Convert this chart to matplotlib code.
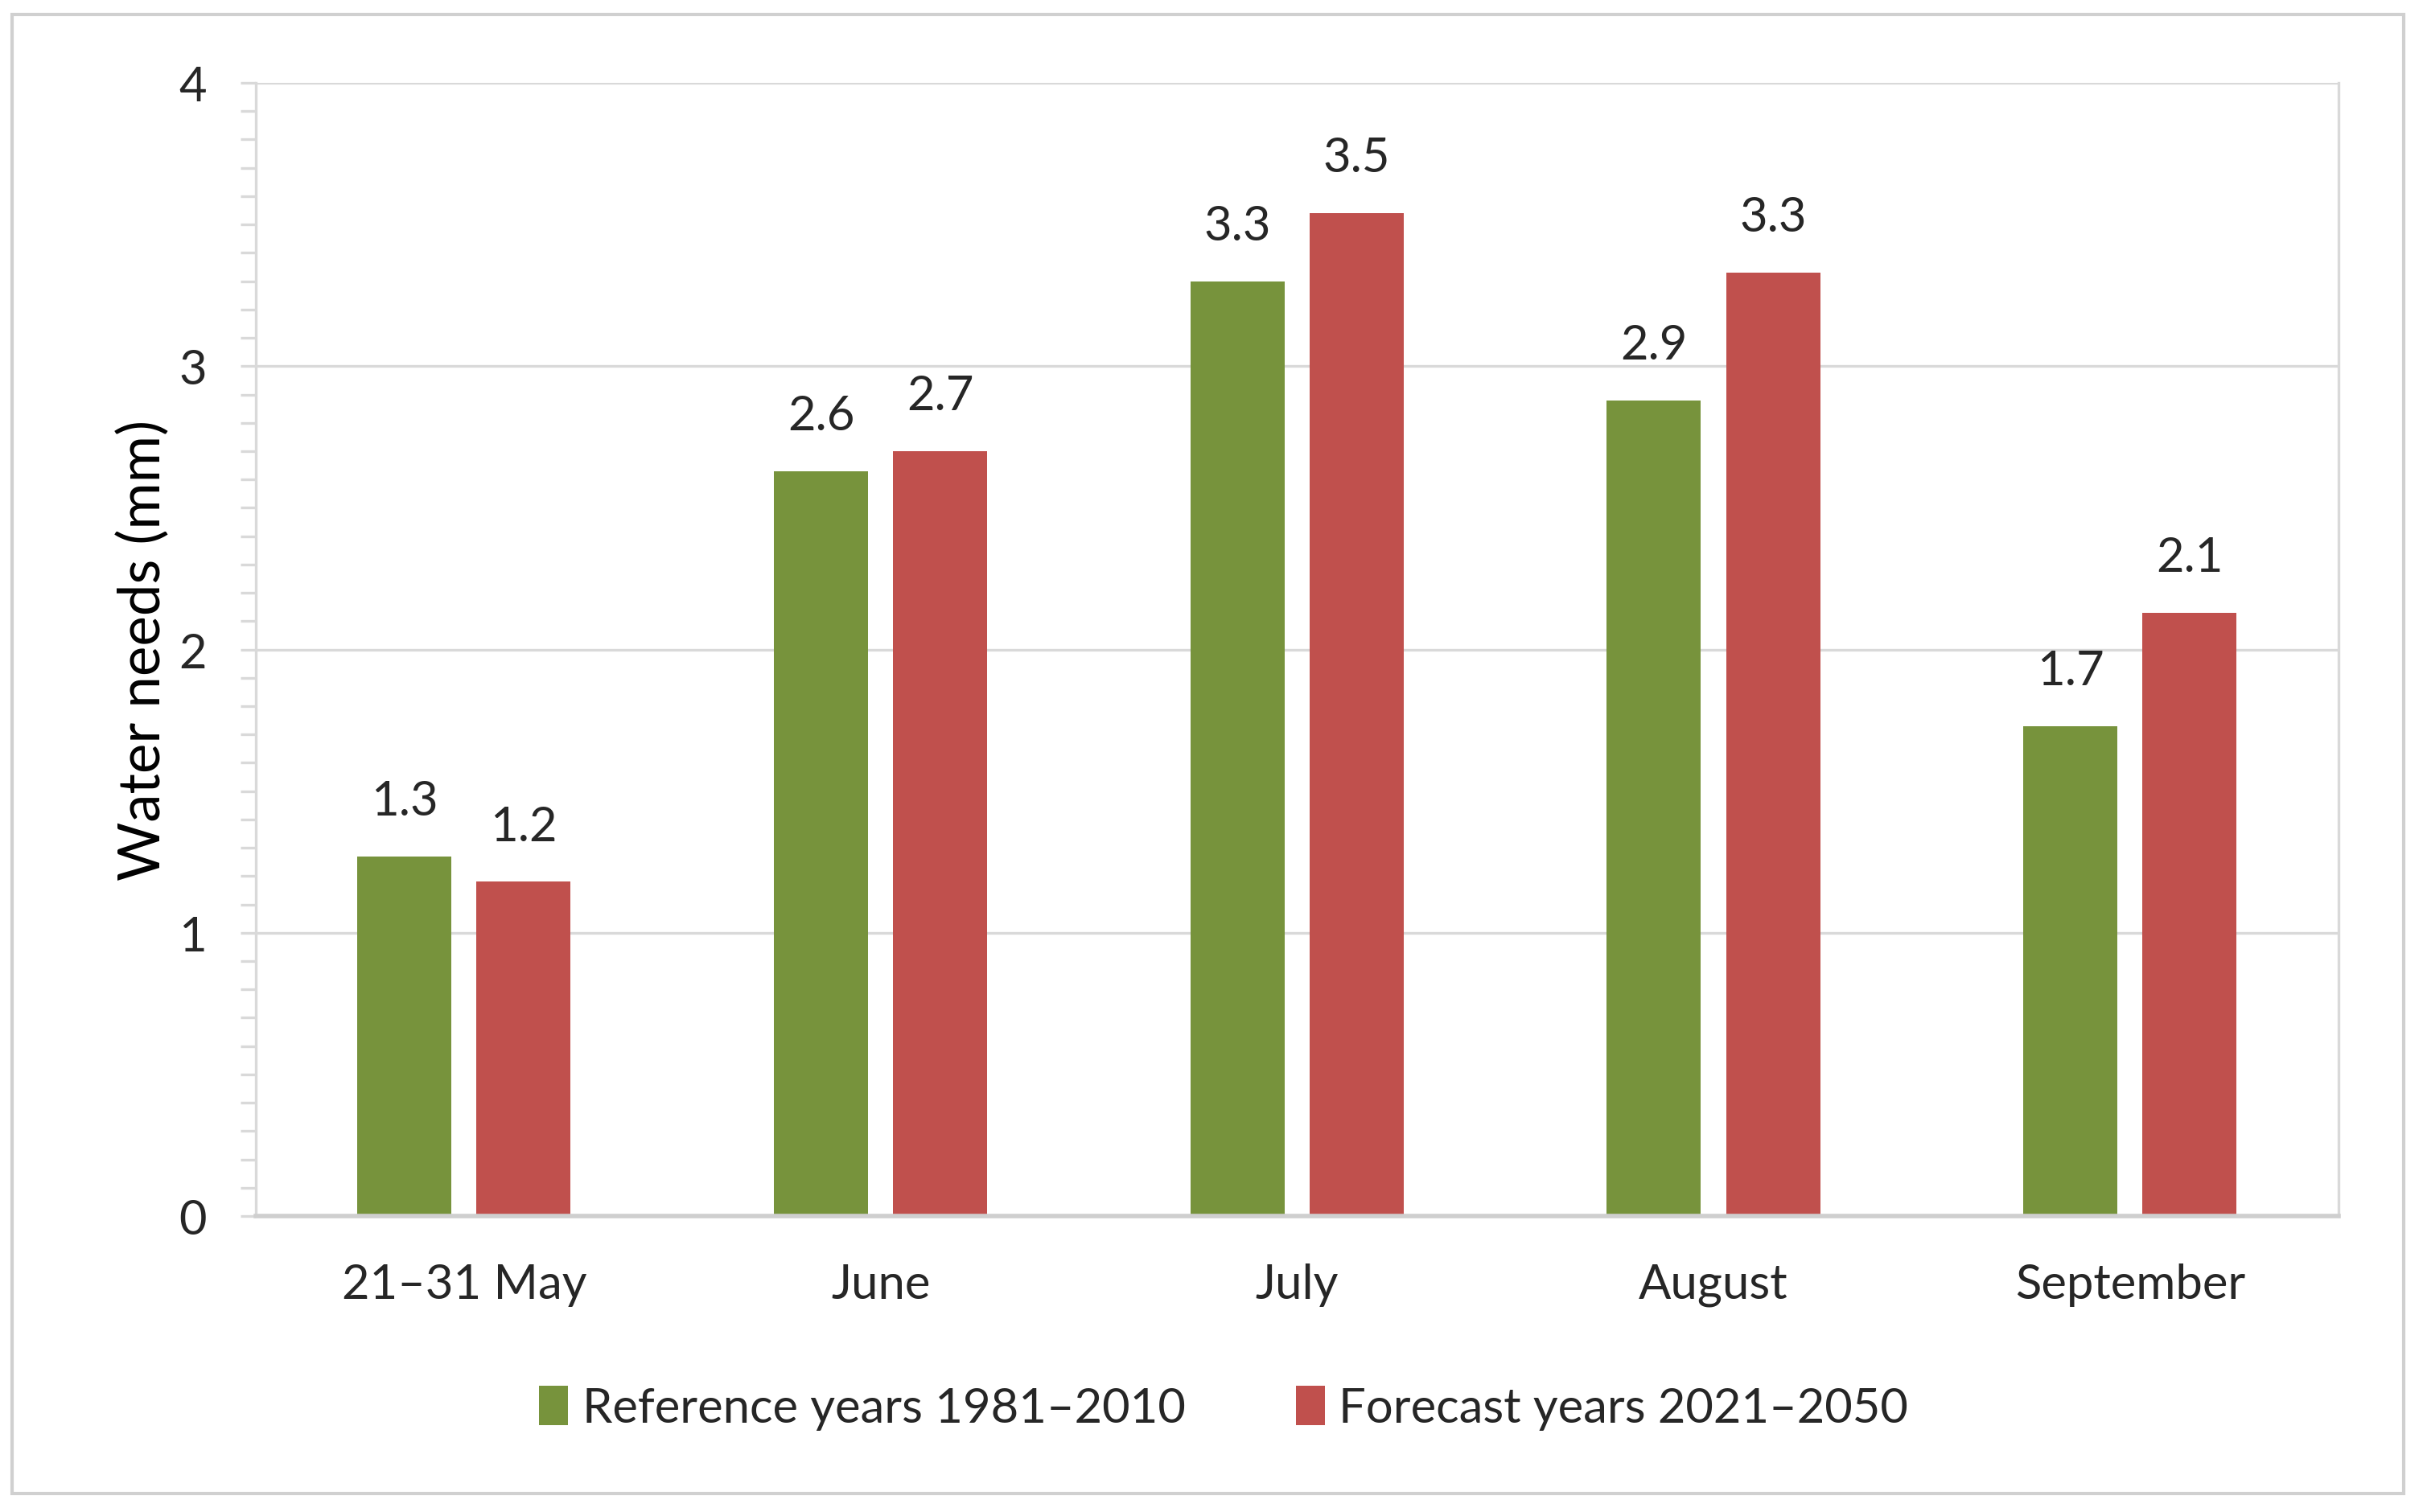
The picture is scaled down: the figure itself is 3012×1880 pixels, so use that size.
import matplotlib.pyplot as plt
from matplotlib.patches import Rectangle
import numpy as np

plt.rcParams['font.family'] = ['Lato', 'DejaVu Sans']

categories = ["21\u201331 May", "June", "July", "August", "September"]
reference = [1.27, 2.63, 3.30, 2.88, 1.73]
forecast = [1.18, 2.70, 3.54, 3.33, 2.13]
series_names = ["Reference years 1981\u20132010", "Forecast years 2021\u20132050"]

GREEN = "#77933C"
RED = "#C0504D"
GRID = "#d9d9d9"
TEXT = "#262626"

fig = plt.figure(figsize=(15.06, 9.405), dpi=200)
ax = fig.add_axes([0.1056, 0.1956, 0.965 - 0.1056, 0.9447 - 0.1956])

x = np.arange(len(categories))
w = 0.226
off = 0.143
b1 = ax.bar(x - off, reference, w, color=GREEN, label=series_names[0], zorder=3)
b2 = ax.bar(x + off, forecast, w, color=RED, label=series_names[1], zorder=3)

for bars in (b1, b2):
    for rect in bars:
        h = rect.get_height()
        ax.annotate(f"{h:.1f}", (rect.get_x() + rect.get_width() / 2, h),
                    xytext=(0, 15), textcoords="offset points",
                    ha="center", va="bottom", fontsize=21.5, color=TEXT)

ax.set_xlim(-0.5, len(categories) - 0.5)
ax.set_ylim(0, 4)
ax.set_yticks([0, 1, 2, 3, 4])
ax.set_yticks(np.arange(0, 4.01, 0.1), minor=True)
ax.set_xticks(x)
ax.set_xticklabels(categories)
ax.tick_params(axis="x", length=0, labelsize=21.5, labelcolor=TEXT, pad=21)
ax.tick_params(axis="y", which="both", length=7, color=GRID, width=1.2,
               labelsize=21.5, labelcolor=TEXT, pad=15)
ax.yaxis.grid(True, color=GRID, linewidth=1.2, zorder=0)

for side in ("left", "right", "top"):
    ax.spines[side].set_color(GRID)
    ax.spines[side].set_linewidth(1.2)
ax.spines["top"].set_visible(False)
ax.spines["bottom"].set_color("#cfcfcf")
ax.spines["bottom"].set_linewidth(2)
ax.spines["bottom"].set_zorder(4)

ax.set_ylabel("Water needs (mm)", fontsize=25.5, color="black", labelpad=4)

fig.legend(handles=[b1, b2], loc="center", bbox_to_anchor=(0.505, 0.069),
           ncol=2, frameon=False, fontsize=21.5, handlelength=0.6,
           handleheight=0.9, handletextpad=0.3, columnspacing=2.3,
           labelcolor=TEXT)

fig.patches.append(Rectangle((0.005, 0.012), 0.987, 0.978, transform=fig.transFigure,
                             fill=False, edgecolor="#d0d0d0", linewidth=1.5))

fig.savefig("out.png", dpi=200)
